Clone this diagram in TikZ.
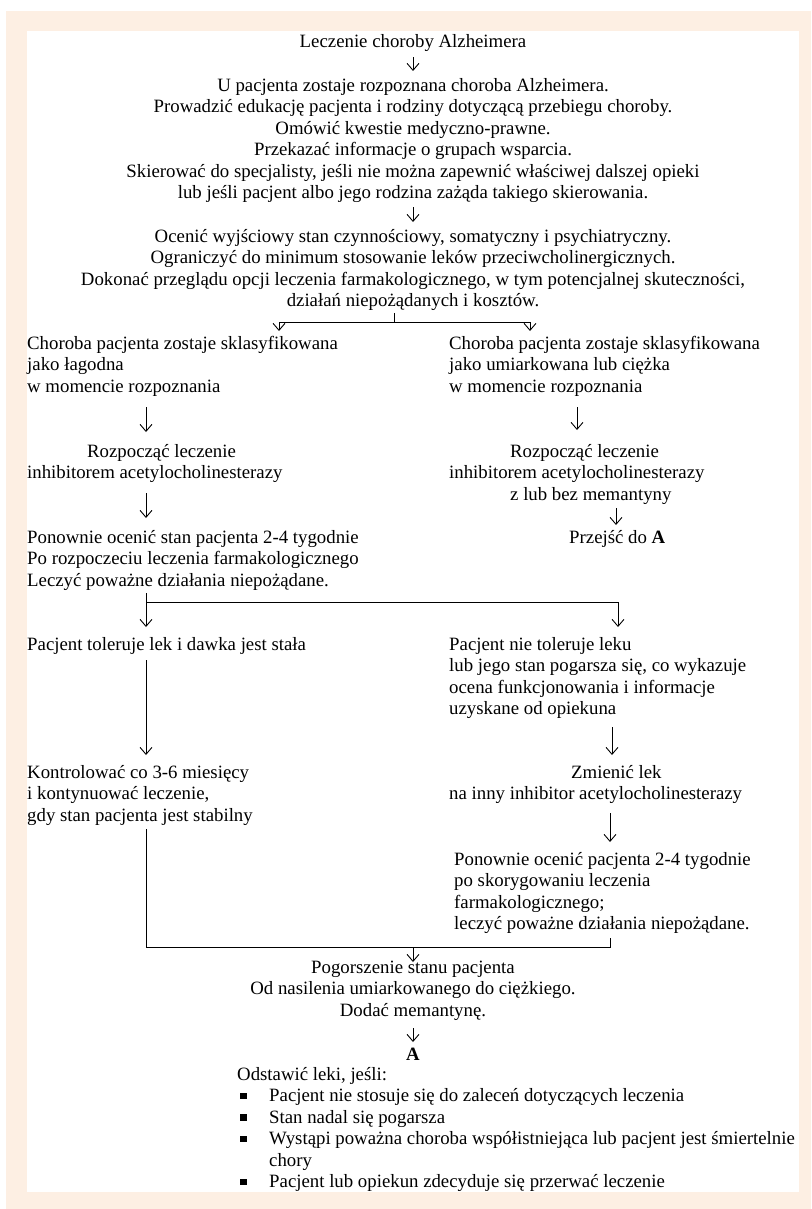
\documentclass[tikz,border=0pt]{standalone}
\usepackage{fontspec}
\setmainfont{Liberation Serif}
\usetikzlibrary{arrows.meta}
\definecolor{peach}{RGB}{253,239,227}
\newcommand\fs{\fontsize{18.8}{21.5}\selectfont}
\newcommand\sr{\rule[-6pt]{0pt}{21pt}}
\newcommand\bul{\hspace*{3pt}\makebox[29pt][l]{\rule[2.5pt]{6.5pt}{6.5pt}}}
\tikzset{
  txt/.style={inner sep=0pt, font=\fs},
  tl/.style={txt, anchor=north west, align=left},
  tc/.style={txt, anchor=north, align=center},
  ln/.style={draw=black, line width=0.9pt},
  arr/.style={ln, -{Straight Barb[length=7pt,width=12pt,line width=0.9pt]}}
}
\begin{document}
\begin{tikzpicture}[x=1pt,y=-1pt]
\useasboundingbox (0,0) rectangle (811,1209);
\fill[peach] (6,11) rectangle (811,1209);
\fill[white] (27,31) rectangle (799,1192);

% column positions and junctions
\coordinate (xL) at (146,0);
\coordinate (xa) at (279,0);
\coordinate (xb) at (530,0);
\coordinate (xR1) at (577,0);
\coordinate (xR2) at (616,0);
\coordinate (xR4) at (618,0);
\coordinate (xR5) at (612,0);
\coordinate (xR6) at (610,0);
\coordinate (j1) at (394,322);
\coordinate (j2) at (146,602);
\coordinate (j3) at (413,947);

% nodes
\node[tc] (T) at (413,32) {\sr Leczenie choroby Alzheimera};
\node[tc] (B1) at (413,76) {\sr U pacjenta zostaje rozpoznana choroba Alzheimera.\\
\sr Prowadzić edukację pacjenta i rodziny dotyczącą przebiegu choroby.\\
\sr Omówić kwestie medyczno-prawne.\\
\sr Przekazać informacje o grupach wsparcia.\\
\sr Skierować do specjalisty, jeśli nie można zapewnić właściwej dalszej opieki\\
\sr lub jeśli pacjent albo jego rodzina zażąda takiego skierowania.};
\node[tc] (B2) at (413,227) {\sr Ocenić wyjściowy stan czynnościowy, somatyczny i psychiatryczny.\\
\sr Ograniczyć do minimum stosowanie leków przeciwcholinergicznych.\\
\sr Dokonać przeglądu opcji leczenia farmakologicznego, w tym potencjalnej skuteczności,\\
\sr działań niepożądanych i kosztów.};

\node[tl] (L1) at (27,334) {\sr Choroba pacjenta zostaje sklasyfikowana\\
\sr jako łagodna\\
\sr w momencie rozpoznania};
\node[tl] (L2) at (27,442) {\sr\hspace*{60pt}Rozpocząć leczenie\\
\sr inhibitorem acetylocholinesterazy};
\node[tl] (L3) at (27,528) {\sr Ponownie ocenić stan pacjenta 2-4 tygodnie\\
\sr Po rozpoczeciu leczenia farmakologicznego\\
\sr Leczyć poważne działania niepożądane.};
\node[tl] (L4) at (27,635) {\sr Pacjent toleruje lek i dawka jest stała};
\node[tl] (L5) at (27,763) {\sr Kontrolować co 3-6 miesięcy\\
\sr i kontynuować leczenie,\\
\sr gdy stan pacjenta jest stabilny};

\node[tl] (R1) at (449,334) {\sr Choroba pacjenta zostaje sklasyfikowana\\
\sr jako umiarkowana lub ciężka\\
\sr w momencie rozpoznania};
\node[tl] (R2) at (449,442) {\sr\hspace*{61pt}Rozpocząć leczenie\\
\sr inhibitorem acetylocholinesterazy\\
\sr\hspace*{61pt}z lub bez memantyny};
\node[tl] (R3) at (569,528) {\sr Przejść do \textbf{A}};
\node[tl] (R4) at (449,635) {\sr Pacjent nie toleruje leku\\
\sr lub jego stan pogarsza się, co wykazuje\\
\sr ocena funkcjonowania i informacje\\
\sr uzyskane od opiekuna};
\node[tl] (R5) at (449,763) {\sr\hspace*{122pt}Zmienić lek\\
\sr na inny inhibitor acetylocholinesterazy};
\node[tl] (R6) at (454,850) {\sr Ponownie ocenić pacjenta 2-4 tygodnie\\
\sr po skorygowaniu leczenia\\
\sr farmakologicznego;\\
\sr leczyć poważne działania niepożądane.};

\node[tc] (C1) at (413,958) {\sr Pogorszenie stanu pacjenta\\
\sr Od nasilenia umiarkowanego do ciężkiego.\\
\sr Dodać memantynę.};
\node[tc] (A) at (413,1045) {\sr\textbf{A}};
\node[tl] (LS) at (237,1065) {\sr Odstawić leki, jeśli:\\
\sr\bul Pacjent nie stosuje się do zaleceń dotyczących leczenia\\
\sr\bul Stan nadal się pogarsza\\
\sr\bul Wystąpi poważna choroba współistniejąca lub pacjent jest śmiertelnie\\
\sr\hspace*{32pt}chory\\
\sr\bul Pacjent lub opiekun zdecyduje się przerwać leczenie};

% connectors
\draw[arr, shorten <=4pt, shorten >=5pt] (T.south) -- (B1.north);
\draw[arr, shorten <=2.5pt, shorten >=5pt] (B1.south) -- (B2.north);
\draw[ln] (B2.south -| j1) -- (j1);
\draw[arr, shorten >=3pt] (j1) -| (L1.north -| xa);
\draw[arr, shorten >=3pt] (j1) -| (R1.north -| xb);

\draw[arr, shorten <=9pt, shorten >=10pt] (L1.south -| xL) -- (L2.north -| xL);
\draw[arr, shorten <=8.5pt, shorten >=10pt] (L2.south -| xL) -- (L3.north -| xL);
\draw[ln, shorten <=1pt] (L3.south -| xL) -- (j2);
\draw[arr, shorten >=8pt] (j2) -- (L4.north -| xL);
\draw[arr, shorten >=8pt] (j2) -| (R4.north -| xR4);
\draw[arr, shorten <=4pt, shorten >=8pt] (L4.south -| xL) -- (L5.north -| xL);
\draw[ln, shorten <=2pt, shorten >=2.5pt] (L5.south -| xL) |- (j3) -| (R6.south -| xR6);
\draw[arr, shorten >=-4pt] (j3) -- (C1.north);

\draw[arr, shorten <=9pt, shorten >=12pt] (R1.south -| xR1) -- (R2.north -| xR1);
\draw[arr, shorten <=2pt, shorten >=3pt] (R2.south -| xR2) -- (R3.north -| xR2);
\draw[arr, shorten <=6.5pt, shorten >=8pt] (R4.south -| xR5) -- (R5.north -| xR5);
\draw[arr, shorten <=7.5pt, shorten >=8pt] (R5.south -| xR6) -- (R6.north -| xR6);
\draw[arr, shorten <=6pt, shorten >=3pt] (C1.south) -- (A.north);
\end{tikzpicture}
\end{document}
